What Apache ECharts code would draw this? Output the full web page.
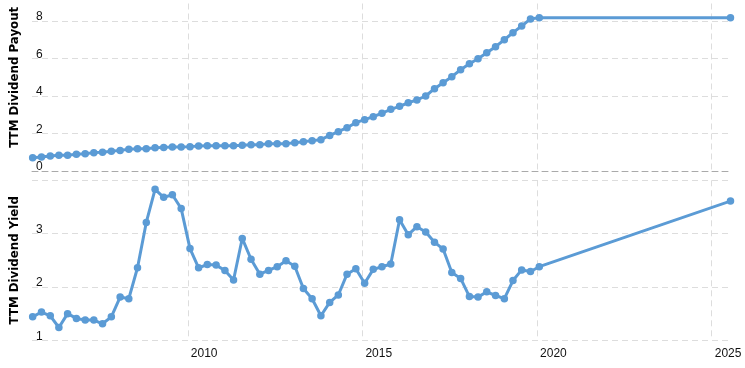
<!DOCTYPE html>
<html><head><meta charset="utf-8">
<script src="https://cdn.jsdelivr.net/npm/echarts@6/dist/echarts.min.js"></script>
<style>html,body{margin:0;padding:0;background:#fff}#c{width:745px;height:368px}</style>
</head><body><div id="c"></div>
<script>
// Quarterly observation dates, plus the latest (current) observation
const quarterDates = [
 '2005-07-24','2005-10-24',
 '2006-01-24','2006-04-24','2006-07-24','2006-10-24',
 '2007-01-24','2007-04-24','2007-07-24','2007-10-24',
 '2008-01-24','2008-04-24','2008-07-24','2008-10-24',
 '2009-01-24','2009-04-24','2009-07-24','2009-10-24',
 '2010-01-24','2010-04-24','2010-07-24','2010-10-24',
 '2011-01-24','2011-04-24','2011-07-24','2011-10-24',
 '2012-01-24','2012-04-24','2012-07-24','2012-10-24',
 '2013-01-24','2013-04-24','2013-07-24','2013-10-24',
 '2014-01-24','2014-04-24','2014-07-24','2014-10-24',
 '2015-01-24','2015-04-24','2015-07-24','2015-10-24',
 '2016-01-24','2016-04-24','2016-07-24','2016-10-24',
 '2017-01-24','2017-04-24','2017-07-24','2017-10-24',
 '2018-01-24','2018-04-24','2018-07-24','2018-10-24',
 '2019-01-24','2019-04-24','2019-07-24','2019-10-24',
 '2020-01-24'
];
const latestDate = '2025-07-16';
const dates = quarterDates.concat([latestDate]);

// TTM Dividend Payout
const payout = [
 0.71,0.75,0.80,0.84,0.84,0.89,0.92,0.98,1.00,1.05,
 1.10,1.16,1.19,1.19,1.24,1.26,1.28,1.28,1.30,1.33,
 1.35,1.35,1.35,1.35,1.37,1.40,1.40,1.46,1.46,1.46,
 1.51,1.56,1.62,1.67,1.90,2.10,2.31,2.58,2.74,2.90,
 3.08,3.29,3.45,3.64,3.79,4.00,4.39,4.71,5.03,5.40,
 5.72,5.99,6.31,6.63,7.00,7.38,7.73,8.11,8.18,8.18
];
// TTM Dividend Yield
const yieldPct = [
 1.44,1.53,1.46,1.24,1.50,1.41,1.38,1.38,1.31,1.44,
 1.81,1.78,2.36,3.21,3.83,3.68,3.73,3.47,2.72,2.36,
 2.42,2.41,2.31,2.13,2.91,2.52,2.24,2.31,2.38,2.49,
 2.39,1.97,1.78,1.46,1.71,1.85,2.24,2.34,2.07,2.33,
 2.38,2.43,3.26,2.98,3.13,3.03,2.84,2.71,2.27,2.16,
 1.82,1.81,1.91,1.84,1.78,2.12,2.32,2.29,2.38,3.61
];
const yearTicks = [2010, 2015, 2020, 2025];
const xRange = {start: '2005-07-17', end: '2025-06-20'};
const payoutAxis = {min: 0, max: 10, interval: 2};
const yieldAxis = {min: 1, max: 4, interval: 1};

// date string -> fractional year (position on the value axis)
function toYear(s) {
  const p = s.split('-').map(Number);
  const t = Date.UTC(p[0], p[1] - 1, p[2]);
  const a = Date.UTC(p[0], 0, 1), b = Date.UTC(p[0] + 1, 0, 1);
  return p[0] + (t - a) / (b - a);
}

const blue = '#5b9bd5';
const xMin = toYear(xRange.start);
const xMax = toYear(xRange.end);
const labelFont = {fontFamily: '"Liberation Sans", Arial, sans-serif', fontSize: 12, color: '#111'};
const nameFont = {fontFamily: '"DejaVu Sans", Verdana, sans-serif', fontSize: 11.8, fontWeight: 'bold', color: '#000'};
const dash = [6, 4];

function xAxisCfg(idx, showLabel) {
  return {
    type: 'value', gridIndex: idx, min: xMin, max: xMax,
    axisLine: idx === 0 ? {show: true, onZero: false, lineStyle: {color: '#aaa', type: dash, width: 1}} : {show: false},
    axisTick: {show: false, customValues: yearTicks},
    axisLabel: Object.assign({show: showLabel, customValues: yearTicks,
      formatter: v => String(Math.round(v)),
      align: 'left', margin: 7, padding: [0, 0, 0, 3]}, labelFont),
    splitLine: {show: true, lineStyle: {color: '#ddd', type: dash, width: 1}}
  };
}
function yAxisCfg(idx, range, name, hideMin) {
  return Object.assign({
    type: 'value', gridIndex: idx,
    name: name, nameLocation: 'middle', nameGap: 11, nameTextStyle: nameFont,
    axisLine: {show: false}, axisTick: {show: false},
    axisLabel: Object.assign({inside: true, margin: 4, verticalAlign: 'bottom', padding: [0, 0, -2, 0],
      showMaxLabel: false}, labelFont),
    splitLine: {show: true, showMinLine: !hideMin, lineStyle: {color: '#ddd', type: dash, width: 1}}
  }, range);
}
function lineSeries(idx, values) {
  return {
    type: 'line', xAxisIndex: idx, yAxisIndex: idx,
    data: dates.map((d, i) => [toYear(d), values[i]]),
    symbol: 'circle', symbolSize: 7.5, showSymbol: true,
    lineStyle: {color: blue, width: 3},
    itemStyle: {color: blue, borderWidth: 0},
    clip: false, animation: false
  };
}
const chart = echarts.init(document.getElementById('c'), null, {renderer: 'canvas'});
chart.setOption({
  animation: false,
  backgroundColor: '#fff',
  grid: [
    {left: 32, right: 17, top: -16.5, height: 187.5, containLabel: false, outerBoundsMode: 'none'},
    {left: 32, right: 17, top: 180.3, height: 160, containLabel: false, outerBoundsMode: 'none'}
  ],
  xAxis: [xAxisCfg(0, false), xAxisCfg(1, true)],
  yAxis: [yAxisCfg(0, payoutAxis, 'TTM Dividend Payout', true), yAxisCfg(1, yieldAxis, 'TTM Dividend Yield', false)],
  series: [lineSeries(0, payout), lineSeries(1, yieldPct)]
});
</script></body></html>
